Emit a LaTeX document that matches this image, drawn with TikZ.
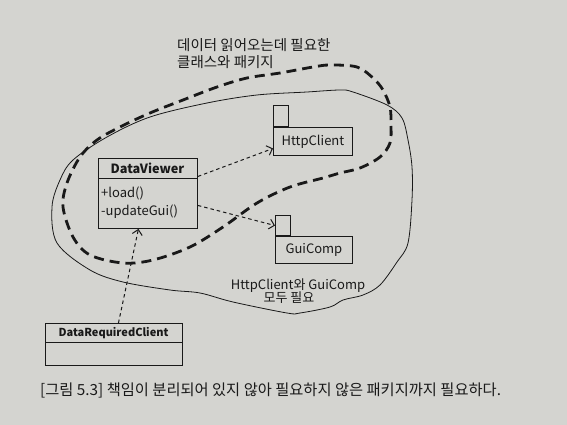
\documentclass[tikz,border=0pt]{standalone}
\usepackage{fontspec}
\setmainfont{Noto Sans CJK KR}
\usetikzlibrary{arrows.meta}
\definecolor{paper}{RGB}{212,212,208}
\definecolor{ink}{RGB}{25,25,25}
\begin{document}
\begin{tikzpicture}[x=1pt,y=-1pt,
  box/.style={draw=ink, line width=0.9pt, inner sep=0pt},
  dep/.style={draw=ink, line width=1pt, dash pattern=on 3.5pt off 3pt, -{Straight Barb[length=5pt,width=10pt]}},
  lbl/.style={font=\fontsize{13}{15}\selectfont, text=ink, inner sep=0pt},
  kl/.style={font=\fontsize{14.5}{16}\selectfont, text=ink, inner sep=0pt},
  bl/.style={font=\fontsize{12.7}{14}\selectfont\bfseries, text=ink, inner sep=0pt},
  divider/.style={draw=ink, line width=0.9pt}]
\fill[paper] (0,0) rectangle (567,425);
\useasboundingbox (0,0) rectangle (567,425);

% DataViewer class
\node[box, minimum width=99pt, minimum height=70pt, anchor=north west] (dv) at (98,158) {};
\draw[divider] ([yshift=-20pt]dv.north west) -- ([yshift=-20pt]dv.north east);
\node[bl] (dvt) at (147.5,168) {DataViewer};
\node[lbl, anchor=west] (dvl) at (101,193) {+load()};
\node[lbl, anchor=west] (dvu) at (101,212) {-updateGui()};

% HttpClient package
\node[box, minimum width=15pt, minimum height=21pt, anchor=south west] (ht) at (273,127) {};
\node[box, lbl, minimum width=79pt, minimum height=28pt, anchor=north west] (hb) at (273,127) {HttpClient};

% GuiComp package
\node[box, minimum width=15pt, minimum height=20pt, anchor=south west] (gt) at (275,236) {};
\node[box, lbl, minimum width=77pt, minimum height=27pt, anchor=north west] (gb) at (275,236) {GuiComp};

% DataRequiredClient class
\node[box, minimum width=137pt, minimum height=42pt, anchor=north west] (drc) at (45,323) {};
\draw[divider] ([yshift=-19pt]drc.north west) -- ([yshift=-19pt]drc.north east);
\node[bl, font=\fontsize{11}{12}\selectfont\bfseries] (drct) at (113.5,333) {DataRequiredClient};

% dependencies
\draw[dep] ([yshift=17pt]dv.east) -- ([yshift=-7pt]hb.west);
\draw[dep] ([yshift=-12pt]dv.east) -- (gt.west);
\draw[dep] ([xshift=4.5pt]drc.north) -- ([xshift=-9.5pt]dv.south);

% solid outline
\draw[ink, line width=0.8pt] plot[smooth cycle, tension=0.55] coordinates {
 (52,207) (60,180) (73,160) (107,137) (150,117) (207,103) (257,95) (307,92) (340,90) (353,92)
 (387,105) (402,118) (408,140) (412,167) (412,200) (408,243) (397,262) (380,285) (363,295)
 (343,300) (330,307) (300,313) (287,313) (233,302) (200,293) (170,290) (123,282) (90,270) (57,243)};

% dashed outline
\draw[ink, line width=2.8pt, dash pattern=on 10pt off 6pt] plot[smooth cycle, tension=0.55] coordinates {
 (63,207) (67,183) (80,157) (97,140) (120,127) (150,113) (183,100) (217,87) (247,78) (280,73)
 (313,67) (330,65) (357,67) (373,78) (383,90) (390,107) (391,125) (390,143) (380,157) (360,168)
 (340,173) (323,178) (290,187) (257,203) (223,227) (190,247) (153,260) (123,263) (90,255) (73,237)};

% labels
\node[kl, anchor=west] (t1a) at (177,45) {데이터 읽어오는데 필요한};
\node[kl, anchor=west] (t1b) at (177,62) {클래스와 패키지};
\node[lbl] (t2a) at (298,286) {HttpClient와 GuiComp};
\node[lbl] (t2b) at (289,298) {모두 필요};
\node[kl, font=\fontsize{15.3}{17}\selectfont, anchor=west] (cap) at (40,390) {[그림 5.3] 책임이 분리되어 있지 않아 필요하지 않은 패키지까지 필요하다.};
\end{tikzpicture}
\end{document}
